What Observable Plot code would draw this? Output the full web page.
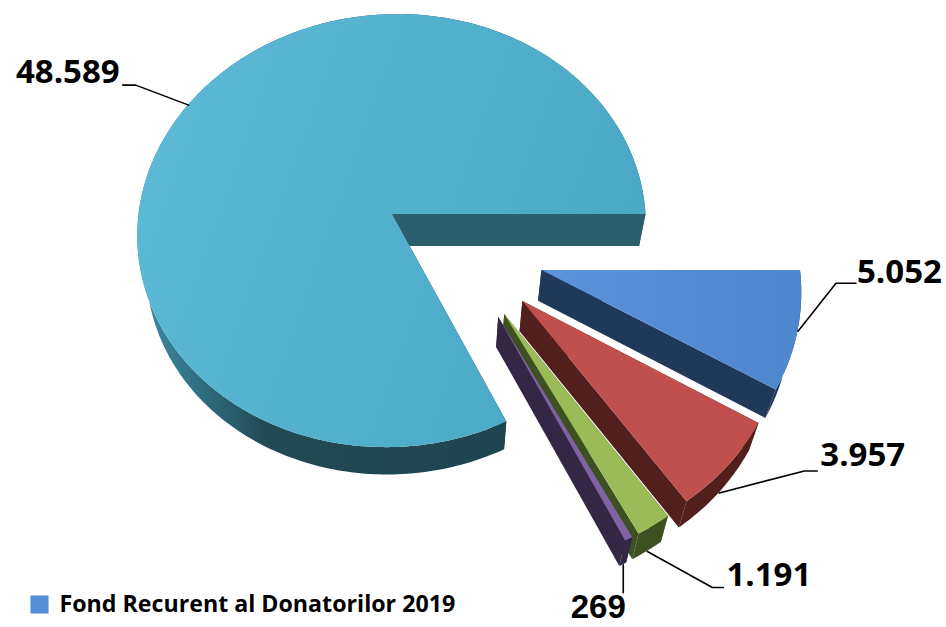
<!DOCTYPE html>
<html>
<head>
<meta charset="utf-8">
<style>html,body{margin:0;padding:0;background:#fff}svg{display:block}</style>
<script src="https://cdn.jsdelivr.net/npm/d3@7"></script>
<script src="https://cdn.jsdelivr.net/npm/@observablehq/plot@0.6"></script>
</head>
<body>
<div id="chart"></div>
<script>
const values = [48589, 5052, 3957, 1191, 269];
const valueLabels = ["48.589", "5.052", "3.957", "1.191", "269"];
const legendLabel = "Fond Recurent al Donatorilor 2019";
const topFills = ["url(#topMain)", "url(#topBlue)", "#c0504d", "#9bbb59", "#8064a2"];
const sideFills = ["#2b5f6e", "#20385a", "#521f1d", "#3f5020", "#332745"];
const rimFills = ["url(#rimMain)", "#20385a", "#521f1d", "#3f5020", "#332745"];
const explodeU = [0, 0.584, 0.508, 0.438, 0.415];
const explodeV = [0, 0.255, 0.392, 0.4485, 0.4615];
// leader routing per slice: anchor on lower rim?, elbow offset, stub end offset, label anchor
const anchorLow = [false, false, true, true, true];
const elbowDx = [-53, 38, 85, 65, 0];
const elbowDy = [-20, -48, -22, 36, 28];
const stubDx = [-13, 20, 13, 11, 0];
const labelDx = [-3, 1, 3, 3, -25];
const labelDy = [-13, -11, -15, -12, 15];
const labelAnchor = ["end", "start", "start", "start", "middle"];
const labelFonts = ["Open Sans", "Open Sans", "Open Sans", "Open Sans", "Liberation Sans"];

const width = 946, height = 627;
const cx = 392, cy = 214, a = 253.5, b = 215.3, p = 0.0765, c = -78;
const toScreen = (u, v) => {
  const w = 1 - p * v;
  return [cx + (c + a * u) / w - c, cy + b * v / w];
};
const drop = ([x, y]) => [430 + (x - 430) * 0.97, y + 32 - (y - 214) * 0.02];

const others = d3.sum(values.slice(1));
const start = Math.PI / 2 + 2 * Math.PI * others / d3.sum(values);
const arcs = d3.pie().sort(null).startAngle(start).endAngle(start + 2 * Math.PI)(values);

const rimAt = (i, t) => toScreen(explodeU[i] + Math.sin(t), explodeV[i] - Math.cos(t));
const arcRange = (i) => {
  const {startAngle: s, endAngle: e} = arcs[i];
  const n = Math.max(4, Math.ceil((e - s) * 180 / Math.PI));
  return d3.range(n + 1).map((k) => s + (e - s) * k / n);
};
const band = (pts) => pts.map((q) => {
  const l = drop(q);
  return {x1: q[0], y1: q[1], x2: l[0], y2: l[1]};
});

const marks = [];
const channels = {x1: "x1", y1: "y1", x2: "x2", y2: "y2"};
const mk = (rows, fill) => marks.push(Plot.area(rows, {...channels, fill, curve: "linear"}));

values.forEach((_, i) => {
  const apex = toScreen(explodeU[i], explodeV[i]);
  const rng = arcRange(i);
  const rim = rng.map((t) => rimAt(i, t));
  mk(band(rim), rimFills[i]);
  mk(band([apex, rim[rim.length - 1]]), sideFills[i]);
  mk(band([apex, rim[0]]), i === 0 ? "#1e454f" : sideFills[i]);
  mk(rim.map((q) => ({x1: apex[0], y1: apex[1], x2: q[0], y2: q[1]})), topFills[i]);
});

// leader lines + labels
values.forEach((_, i) => {
  const mid = (arcs[i].startAngle + arcs[i].endAngle) / 2;
  let q = rimAt(i, mid);
  if (anchorLow[i]) q = drop(q);
  const elbow = [q[0] + elbowDx[i], q[1] + elbowDy[i]];
  const end = [elbow[0] + stubDx[i], elbow[1]];
  marks.push(Plot.line([q, elbow, end], {x: (d) => d[0], y: (d) => d[1], stroke: "#000", strokeWidth: 1.6, curve: "linear"}));
  marks.push(Plot.text([valueLabels[i]], {
    x: () => end[0] + labelDx[i], y: () => end[1] + labelDy[i], text: (d) => d,
    textAnchor: labelAnchor[i], lineAnchor: "middle",
    fontSize: 33, fontWeight: 700, fontFamily: labelFonts[i], fill: "#000"
  }));
});

// legend
marks.push(Plot.dot([{x: 39, y: 604}], {x: "x", y: "y", symbol: "square", r: 10.2, fill: "#558ed5", stroke: "none"}));
marks.push(Plot.text([legendLabel], {
  x: () => 59, y: () => 604, text: (d) => d, textAnchor: "start", lineAnchor: "middle",
  fontSize: 23.2, fontWeight: 700, fontFamily: "Open Sans", fill: "#000"
}));

const plot = Plot.plot({
  width, height, margin: 0,
  x: {domain: [0, width], range: [0, width], axis: null},
  y: {domain: [0, height], range: [0, height], axis: null},
  style: {background: "#fff"},
  marks
});
plot.insertAdjacentHTML("afterbegin", `<defs>
<linearGradient id="topMain" x1="0" y1="0.2" x2="1" y2="0.5"><stop offset="0" stop-color="#5cbad6"/><stop offset="1" stop-color="#4aa8c4"/></linearGradient>
<linearGradient id="topBlue" x1="0" y1="0" x2="1" y2="0"><stop offset="0" stop-color="#5b92da"/><stop offset="1" stop-color="#4f87ce"/></linearGradient>
<linearGradient id="rimMain" gradientUnits="userSpaceOnUse" x1="145" y1="0" x2="650" y2="0"><stop offset="0" stop-color="#3d8a9f"/><stop offset="0.103" stop-color="#2f7085"/><stop offset="0.238" stop-color="#214a55"/><stop offset="0.72" stop-color="#1e454f"/><stop offset="0.75" stop-color="#2b5f6e"/></linearGradient>
</defs>`);
document.getElementById("chart").appendChild(plot);
</script>
</body>
</html>
